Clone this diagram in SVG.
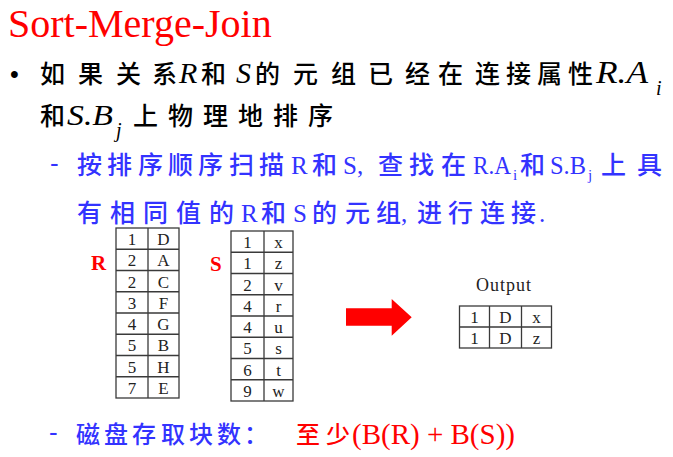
<svg xmlns="http://www.w3.org/2000/svg" width="673" height="457" viewBox="0 0 673 457">
  <style>
    .title { font-family: "Liberation Serif", "Times New Roman", serif; font-size: 40px; fill: #FF0000; }
    .cjk { font-family: "Noto Sans CJK SC", sans-serif; font-weight: 500; }
    .blk { fill: #000000; }
    .blu { fill: #3333FF; }
    .red { fill: #FF0000; }
    .it { font-family: "Liberation Serif", "Times New Roman", serif; font-style: italic; }
    .rm { font-family: "Liberation Serif", "Times New Roman", serif; }
    .cell { font-family: "Liberation Serif", "Times New Roman", serif; font-size: 17px; fill: #222222; text-anchor: middle; }
    .grid { fill: none; stroke: #3a3a3a; stroke-width: 1.3; }
    .lbl { font-family: "Liberation Serif", "Times New Roman", serif; font-weight: bold; font-size: 21px; fill: #FF0000; }
  </style>

  <rect width="673" height="457" fill="#FFFFFF"/>

  <!-- heading -->
  <text class="title" x="8" y="37">Sort-Merge-Join</text>

  <!-- main bullet -->
  <g id="bullet-main">
    <text x="10" y="83" font-family="Liberation Sans, sans-serif" font-size="25" class="blk">•</text>
    <text class="cjk blk" font-size="25" y="83" x="40 78 116 152">如果关系</text>
    <text class="it blk" font-size="30" x="179" y="83">R</text>
    <text class="cjk blk" font-size="25" x="201" y="83">和</text>
    <text class="it blk" font-size="30" x="236" y="83">S</text>
    <text class="cjk blk" font-size="25" y="83" x="255 293 331 368 405 438 475 506 537 568">的元组已经在连接属性</text>
    <text class="it blk" font-size="31" x="596" y="83" textLength="52" lengthAdjust="spacingAndGlyphs">R.A</text>
    <text class="it blk" font-size="20" x="656" y="95">i</text>

    <text class="cjk blk" font-size="25" x="40" y="125">和</text>
    <text class="it blk" font-size="30" x="67" y="125" textLength="46" lengthAdjust="spacingAndGlyphs">S.B</text>
    <text class="it blk" font-size="20" x="116" y="137">j</text>
    <text class="cjk blk" font-size="25" y="125" x="133 168 203 238 273 308">上物理地排序</text>
  </g>

  <!-- sub bullet: scan order -->
  <g id="bullet-scan">
    <text x="50" y="172" font-family="Liberation Sans, sans-serif" font-size="26" class="blu">-</text>
    <text class="cjk blu" font-size="25" y="174" x="77 107 138 168 198 229 259">按排序顺序扫描</text>
    <text class="rm blu" font-size="25" x="291" y="174">R</text>
    <text class="cjk blu" font-size="25" x="312" y="174">和</text>
    <text class="rm blu" font-size="25" x="343" y="174">S,</text>
    <text class="cjk blu" font-size="25" y="174" x="378 409 441">查找在</text>
    <text class="rm blu" font-size="25" x="473" y="174" textLength="38" lengthAdjust="spacingAndGlyphs">R.A</text>
    <text class="rm blu" font-size="15" x="513" y="180">i</text>
    <text class="cjk blu" font-size="25" x="520" y="174">和</text>
    <text class="rm blu" font-size="25" x="550" y="174" textLength="36" lengthAdjust="spacingAndGlyphs">S.B</text>
    <text class="rm blu" font-size="15" x="588" y="180">j</text>
    <text class="cjk blu" font-size="25" y="174" x="601 637">上具</text>

    <text class="cjk blu" font-size="25" y="222" x="77 110 143 176 209">有相同值的</text>
    <text class="rm blu" font-size="25" x="241" y="222">R</text>
    <text class="cjk blu" font-size="25" x="261" y="222">和</text>
    <text class="rm blu" font-size="25" x="293" y="222">S</text>
    <text class="cjk blu" font-size="25" y="222" x="312 345 376">的元组</text>
    <text class="rm blu" font-size="25" x="401" y="222">,</text>
    <text class="cjk blu" font-size="25" y="222" x="417 448 480 511">进行连接</text>
    <text class="rm blu" font-size="25" x="539" y="222">.</text>
  </g>

  <!-- relation R -->
  <g id="table-r">
    <text class="lbl" x="91" y="270">R</text>
    <rect class="grid" x="116" y="228" width="63" height="170"/>
    <path class="grid" d="M148 228V398M116 249.25H179M116 270.5H179M116 291.75H179M116 313H179M116 334.25H179M116 355.5H179M116 376.75H179"/>
    <text class="cell" x="132" y="245">1</text><text class="cell" x="163.5" y="245">D</text>
    <text class="cell" x="132" y="266.25">2</text><text class="cell" x="163.5" y="266.25">A</text>
    <text class="cell" x="132" y="287.5">2</text><text class="cell" x="163.5" y="287.5">C</text>
    <text class="cell" x="132" y="308.75">3</text><text class="cell" x="163.5" y="308.75">F</text>
    <text class="cell" x="132" y="330">4</text><text class="cell" x="163.5" y="330">G</text>
    <text class="cell" x="132" y="351.25">5</text><text class="cell" x="163.5" y="351.25">B</text>
    <text class="cell" x="132" y="372.5">5</text><text class="cell" x="163.5" y="372.5">H</text>
    <text class="cell" x="132" y="393.75">7</text><text class="cell" x="163.5" y="393.75">E</text>
  </g>

  <!-- relation S -->
  <g id="table-s">
    <text class="lbl" x="210" y="271">S</text>
    <rect class="grid" x="231" y="231" width="62" height="170"/>
    <path class="grid" d="M264 231V401M231 252.25H293M231 273.5H293M231 294.75H293M231 316H293M231 337.25H293M231 358.5H293M231 379.75H293"/>
    <text class="cell" x="247.5" y="248">1</text><text class="cell" x="278.5" y="248">x</text>
    <text class="cell" x="247.5" y="269.25">1</text><text class="cell" x="278.5" y="269.25">z</text>
    <text class="cell" x="247.5" y="290.5">2</text><text class="cell" x="278.5" y="290.5">v</text>
    <text class="cell" x="247.5" y="311.75">4</text><text class="cell" x="278.5" y="311.75">r</text>
    <text class="cell" x="247.5" y="333">4</text><text class="cell" x="278.5" y="333">u</text>
    <text class="cell" x="247.5" y="354.25">5</text><text class="cell" x="278.5" y="354.25">s</text>
    <text class="cell" x="247.5" y="375.5">6</text><text class="cell" x="278.5" y="375.5">t</text>
    <text class="cell" x="247.5" y="396.75">9</text><text class="cell" x="278.5" y="396.75">w</text>
  </g>

  <!-- merge arrow -->
  <g id="connectors">
    <polygon points="346,308.3 391.7,308.3 391.7,299 411.7,317.3 391.7,335.7 391.7,325.7 346,325.7" fill="#FF0000"/>
  </g>

  <!-- joined output -->
  <g id="table-output">
    <text class="rm" font-size="18" fill="#222222" x="476" y="291" textLength="55">Output</text>
    <rect class="grid" x="459.5" y="306" width="92" height="42"/>
    <path class="grid" d="M489.5 306V348M521.5 306V348M459.5 327H551.5"/>
    <text class="cell" x="474.5" y="323">1</text><text class="cell" x="505.5" y="323">D</text><text class="cell" x="536.5" y="323">x</text>
    <text class="cell" x="474.5" y="344">1</text><text class="cell" x="505.5" y="344">D</text><text class="cell" x="536.5" y="344">z</text>
  </g>

  <!-- sub bullet: block I/O cost -->
  <g id="bullet-cost">
    <text x="49" y="441" font-family="Liberation Sans, sans-serif" font-size="26" class="blu">-</text>
    <text class="cjk blu" font-size="24" y="443" x="76 104 132 161 189 217 244">磁盘存取块数：</text>
    <text class="cjk red" font-size="24" y="443" x="296 326">至少</text>
    <text class="rm red" font-size="29" x="352" y="444">(B(R) + B(S))</text>
  </g>
</svg>
